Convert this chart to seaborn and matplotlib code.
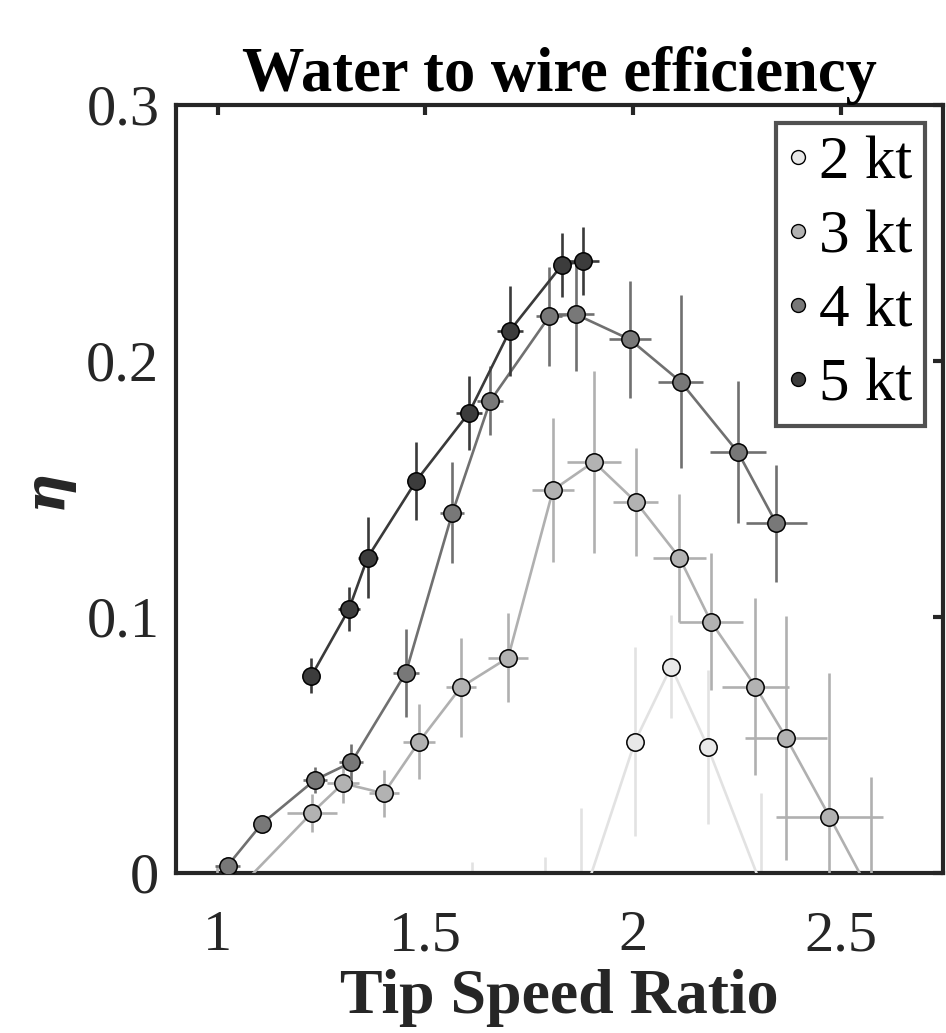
import numpy as np
import pandas as pd
import matplotlib
matplotlib.use("Agg")
import matplotlib.pyplot as plt
from matplotlib.lines import Line2D
import seaborn as sns

# ---- data ----
speeds = ["2 kt", "3 kt", "4 kt", "5 kt"]

tsr_2 = [1.613, 1.787, 1.875, 2.004, 2.091, 2.179, 2.308]
eta_2 = [-0.010, -0.012, -0.0123, 0.0512, 0.0805, 0.0492, -0.005]
ye_2 = [0.014, 0.018, 0.0376, 0.037, 0.020, 0.030, 0.036]
xe_2 = [0.0, 0.0, 0.0, 0.0, 0.0, 0.0, 0.0]

tsr_3 = [0.998, 1.227, 1.302, 1.400, 1.485, 1.585, 1.699, 1.807, 1.905, 2.006,
         2.111, 2.187, 2.294, 2.368, 2.472, 2.572]
eta_3 = [-0.015, 0.0234, 0.0349, 0.0310, 0.0512, 0.0724, 0.0840, 0.1495, 0.1605, 0.1449,
         0.1231, 0.0980, 0.0727, 0.0527, 0.0219, -0.0085]
ye_3 = [0.018, 0.0075, 0.0077, 0.0092, 0.0146, 0.0194, 0.0173, 0.0283, 0.0355, 0.021,
        0.025, 0.0267, 0.0346, 0.0477, 0.056, 0.046]
xe_3 = [0.0, 0.060, 0.038, 0.036, 0.038, 0.036, 0.049, 0.051, 0.065, 0.054,
        0.063, 0.076, 0.081, 0.099, 0.128, 0.0]

tsr_4 = [1.024, 1.106, 1.234, 1.322, 1.453, 1.565, 1.656, 1.798, 1.862, 1.992,
         2.114, 2.252, 2.344]
eta_4 = [0.0027, 0.019, 0.0362, 0.0431, 0.0781, 0.1406, 0.1843, 0.2173, 0.2181, 0.2083,
         0.1918, 0.1642, 0.1365]
ye_4 = [0.002, 0.002, 0.005, 0.007, 0.0172, 0.0197, 0.0135, 0.0195, 0.022, 0.023,
        0.0337, 0.0277, 0.0228]
xe_4 = [0.030, 0.010, 0.029, 0.029, 0.031, 0.029, 0.031, 0.031, 0.044, 0.051,
        0.054, 0.067, 0.074]

tsr_5 = [1.226, 1.316, 1.361, 1.478, 1.605, 1.703, 1.828, 1.879]
eta_5 = [0.0769, 0.1029, 0.1231, 0.1531, 0.1797, 0.2117, 0.2373, 0.2389]
ye_5 = [0.0068, 0.0086, 0.0157, 0.0153, 0.0145, 0.0176, 0.0126, 0.0133]
xe_5 = [0.008, 0.026, 0.024, 0.010, 0.031, 0.031, 0.012, 0.039]

x_ticks = [1, 1.5, 2, 2.5]
x_tick_labels = ["1", "1.5", "2", "2.5"]
y_ticks = [0, 0.1, 0.2, 0.3]
y_tick_labels = ["0", "0.1", "0.2", "0.3"]

# ---- styling ----
face_colors = {"2 kt": "#e8e8e8", "3 kt": "#b2b2b2", "4 kt": "#787878", "5 kt": "#3c3c3c"}
line_colors = {"2 kt": "#e2e2e2", "3 kt": "#b0b0b0", "4 kt": "#707070", "5 kt": "#3a3a3a"}

series = {
    "2 kt": (tsr_2, eta_2, xe_2, ye_2),
    "3 kt": (tsr_3, eta_3, xe_3, ye_3),
    "4 kt": (tsr_4, eta_4, xe_4, ye_4),
    "5 kt": (tsr_5, eta_5, xe_5, ye_5),
}

rows = []
for sp, (xs, ys, xe, ye) in series.items():
    for i, (a, b) in enumerate(zip(xs, ys)):
        rows.append({"speed": sp, "tsr": a, "eta": b, "order": i})
df = pd.DataFrame(rows)

sns.set_theme(style="white")
plt.rcParams["font.family"] = ["Liberation Serif", "DejaVu Serif"]

fig = plt.figure(figsize=(9.46, 10.33), dpi=100)
ax = fig.add_axes([0.186, 0.1552, 0.8108, 0.7434])

for k, sp in enumerate(speeds):
    xs, ys, xe, ye = series[sp]
    ax.errorbar(xs, ys, xerr=xe, yerr=ye, fmt="none", ecolor=line_colors[sp],
                elinewidth=1.9, capsize=0, zorder=2 + 2 * k)
    sub = df[df["speed"] == sp]
    sns.lineplot(data=sub, x="tsr", y="eta", sort=False, ax=ax,
                 color=line_colors[sp], linewidth=1.9, marker="o", markersize=12.5,
                 markerfacecolor=face_colors[sp], markeredgecolor="black",
                 markeredgewidth=1.1, zorder=3 + 2 * k, legend=False)

ax.set_xlim(0.9, 2.745)
ax.set_ylim(0, 0.3)
ax.set_xticks(x_ticks)
ax.set_xticklabels(x_tick_labels)
ax.set_yticks(y_ticks)
ax.set_yticklabels(y_tick_labels)

for s in ax.spines.values():
    s.set_linewidth(3)
    s.set_color("#262626")
    s.set_visible(True)
ax.tick_params(direction="in", length=7, width=3, color="#262626",
               top=True, right=True, labelsize=42, labelcolor="#262626")
ax.tick_params(axis="x", pad=27)
ax.tick_params(axis="y", pad=12)

ax.set_xlabel("Tip Speed Ratio", fontsize=46, fontweight="bold", color="#262626", labelpad=5)
ax.set_ylabel("η", fontsize=40, fontweight="bold", fontstyle="italic", color="#262626",
              labelpad=10, family=["DejaVu Serif"])
ax.set_title("Water to wire efficiency", fontsize=45, fontweight="bold", color="black", pad=10)

handles = [Line2D([0], [0], linestyle="none", marker="o", markersize=10,
                  markerfacecolor=face_colors[sp], markeredgecolor="black",
                  markeredgewidth=1.0) for sp in speeds]
leg = ax.legend(handles, speeds, loc="upper right", bbox_to_anchor=(0.976, 0.976),
                fontsize=44, frameon=True, fancybox=False, handlelength=0.3,
                handletextpad=0.2, borderpad=0.2, labelspacing=0.3, borderaxespad=0)
leg.get_frame().set_edgecolor("#262626")
leg.get_frame().set_linewidth(3)
for t in leg.get_texts():
    t.set_color("black")

fig.savefig("out.png", dpi=100)
